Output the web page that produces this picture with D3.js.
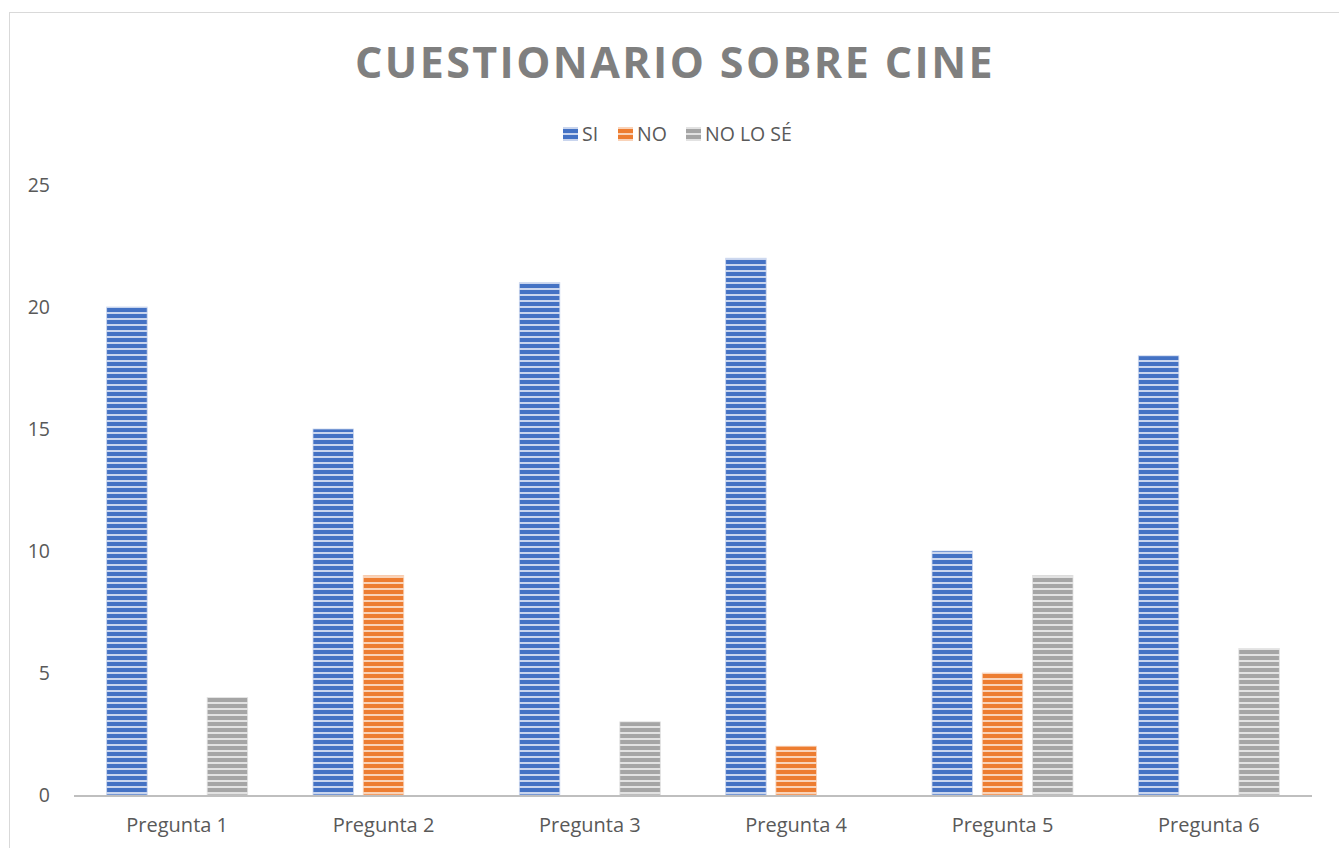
<!DOCTYPE html>
<html>
<head>
<meta charset="utf-8">
<script src="https://cdn.jsdelivr.net/npm/d3@7"></script>
<style>
  body { margin: 0; background: #fff; }
  svg { display: block; }
</style>
</head>
<body>
<svg id="chart" width="1339" height="848"></svg>
<script>
// chart data
let categories = ["Pregunta 1", "Pregunta 2", "Pregunta 3", "Pregunta 4", "Pregunta 5", "Pregunta 6"];
let seriesNames = ["SI", "NO", "NO LO SÉ"];
let siValues = [20, 15, 21, 22, 10, 18];
let noValues = [0, 9, 0, 2, 5, 0];
let noLoSeValues = [4, 0, 3, 0, 9, 6];
let yTicks = [0, 5, 10, 15, 20, 25];

let colors = ["#4472c4", "#ed7d31", "#a5a5a5"];
let lightColors = ["#c9d5ee", "#f9d3b9", "#e2e2e2"];
let series = [siValues, noValues, noLoSeValues];

let svg = d3.select("#chart");
let width = 1339;
let plotLeft = 74, plotRight = 1312;
let labelFont = "Open Sans, sans-serif";

// chart frame
svg.append("rect")
    .attr("x", 9.5).attr("y", 12.5)
    .attr("width", 1400).attr("height", 900)
    .attr("fill", "none")
    .attr("stroke", "#d9d9d9")
    .attr("stroke-width", 1);

// stripe patterns, one per series
let defs = svg.append("defs");
colors.forEach(function (c, i) {
    let p = defs.append("pattern")
        .attr("id", "stripe" + i)
        .attr("patternUnits", "userSpaceOnUse")
        .attr("width", 8).attr("height", 6);
    p.append("rect").attr("width", 8).attr("height", 6).attr("fill", lightColors[i]);
    p.append("rect").attr("y", 2).attr("width", 8).attr("height", 4).attr("fill", c);
});

let x0 = d3.scaleBand()
    .domain(categories)
    .range([plotLeft, plotRight])
    .padding(0);

// bars sit in the middle of each category slot
let groupPad = (x0.bandwidth() - 141) / 2;
let x1 = d3.scaleBand()
    .domain(d3.range(seriesNames.length))
    .range([groupPad, x0.bandwidth() - groupPad])
    .paddingInner(0.194)
    .paddingOuter(0);

let y = d3.scaleLinear()
    .domain([0, 25])
    .range([795, 185]);

// y tick labels (no gridlines)
svg.append("g").selectAll("text")
    .data(yTicks)
    .enter().append("text")
    .attr("x", 50)
    .attr("y", function (d) { return y(d); })
    .attr("dy", "0.36em")
    .attr("text-anchor", "end")
    .attr("font-family", labelFont)
    .attr("font-size", 19.5)
    .attr("fill", "#595959")
    .text(function (d) { return d; });

// bars
let groups = svg.append("g").selectAll("g")
    .data(categories)
    .enter().append("g")
    .attr("transform", function (d) { return "translate(" + x0(d) + ",0)"; });

groups.selectAll("rect")
    .data(function (d, ci) {
        return series.map(function (s, si) { return {series: si, value: s[ci]}; });
    })
    .enter().append("rect")
    .filter(function (d) { return d.value > 0; })
    .attr("x", function (d) { return x1(d.series); })
    .attr("y", function (d) { return y(d.value); })
    .attr("width", x1.bandwidth())
    .attr("height", function (d) { return y(0) - y(d.value); })
    .attr("fill", function (d) { return "url(#stripe" + d.series + ")"; })
    .attr("stroke", function (d) { return lightColors[d.series]; })
    .attr("stroke-width", 0.8);

// x axis line
svg.append("line")
    .attr("x1", plotLeft).attr("x2", plotRight)
    .attr("y1", y(0) + 1).attr("y2", y(0) + 1)
    .attr("stroke", "#bfbfbf")
    .attr("stroke-width", 2.2);

// category labels
svg.append("g").selectAll("text")
    .data(categories)
    .enter().append("text")
    .attr("x", function (d) { return x0(d) + x0.bandwidth() / 2; })
    .attr("y", 832)
    .attr("text-anchor", "middle")
    .attr("font-family", labelFont)
    .attr("font-size", 20)
    .attr("fill", "#595959")
    .text(function (d) { return d; });

// title
svg.append("text")
    .attr("x", 675)
    .attr("y", 78)
    .attr("text-anchor", "middle")
    .attr("font-family", labelFont)
    .attr("font-weight", "bold")
    .attr("font-size", 43)
    .attr("letter-spacing", 2.4)
    .attr("fill", "#7f7f7f")
    .text("CUESTIONARIO SOBRE CINE");

// legend
let legendX = [563, 618, 686];
let legend = svg.append("g").selectAll("g")
    .data(seriesNames)
    .enter().append("g")
    .attr("transform", function (d, i) { return "translate(" + legendX[i] + ",127)"; });
legend.append("rect")
    .attr("width", 15).attr("height", 14)
    .attr("fill", function (d, i) { return "url(#stripe" + i + ")"; });
legend.append("text")
    .attr("x", 19)
    .attr("y", 14)
    .attr("font-family", labelFont)
    .attr("font-size", 19.5)
    .attr("fill", "#595959")
    .text(function (d) { return d; });
</script>
</body>
</html>
